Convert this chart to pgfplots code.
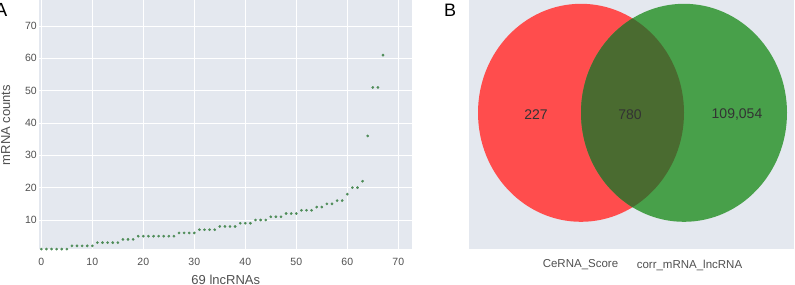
\documentclass[border=0pt]{standalone}
\usepackage{pgfplots}
\usepackage{pgfplotstable}
\pgfplotsset{compat=1.18}
\usepackage{fontspec}
\setmainfont{Liberation Sans}
\definecolor{bgc}{RGB}{228,232,239}
\definecolor{dotc}{RGB}{78,140,88}
\definecolor{vred}{RGB}{255,77,77}
\definecolor{vgreen}{RGB}{72,160,74}
\definecolor{vmix}{RGB}{74,107,48}
\definecolor{tickc}{RGB}{80,80,80}
\pgfplotstableread{
x y
0 1
1 1
2 1
3 1
4 1
5 1
6 2
7 2
8 2
9 2
10 2
11 3
12 3
13 3
14 3
15 3
16 4
17 4
18 4
19 5
20 5
21 5
22 5
23 5
24 5
25 5
26 5
27 6
28 6
29 6
30 6
31 7
32 7
33 7
34 7
35 8
36 8
37 8
38 8
39 9
40 9
41 9
42 10
43 10
44 10
45 11
46 11
47 11
48 12
49 12
50 12
51 13
52 13
53 13
54 14
55 14
56 15
57 15
58 16
59 16
60 18
61 20
62 20
63 22
64 36
65 51
66 51
67 61
}\dataA
\begin{document}
\begin{tikzpicture}[x=1pt,y=1pt]
\useasboundingbox (0,0) rectangle (795,284);
% Panel A
\begin{axis}[
  at={(39.3pt,35pt)}, anchor=south west,
  scale only axis, width=373pt, height=249pt,
  xmin=-0.4, xmax=72.75, ymin=1.03, ymax=78.05,
  axis background/.style={fill=bgc},
  axis line style={draw=none},
  major tick length=0pt,
  grid=major, grid style={white, line width=0.9pt},
  xtick={0,10,...,70}, ytick={10,20,...,70},
  /pgf/number format/assume math mode=true,
  tick label style={font=\fontsize{10.5}{12}\selectfont, text=tickc},
  xticklabel style={yshift=-5.5pt},
  yticklabel style={xshift=1pt},
  xlabel={69 lncRNAs},
  label style={font=\fontsize{13}{15}\selectfont, text=tickc},
  xlabel style={at={(axis description cs:0.5,-0.1245)}, anchor=center},
  clip=false,
]
\addplot[only marks, mark=*, mark size=1.15pt, color=dotc] table[x=x,y=y] {\dataA};
\end{axis}
\node[rotate=90, anchor=center, font=\fontsize{13}{15}\selectfont, text=tickc] at (5.8,159) {mRNA counts};
\node[anchor=base east, inner sep=0pt, font=\fontsize{19}{21}\selectfont] at (7.5,267) {A};
% Panel B
\begin{axis}[
  at={(469pt,35pt)}, anchor=south west,
  scale only axis, width=325pt, height=249pt,
  xmin=469, xmax=794, ymin=0, ymax=249, y dir=reverse,
  axis background/.style={fill=bgc},
  axis line style={draw=none},
  xtick=\empty, ytick=\empty,
  clip=false,
]
\fill[vred] (axis cs:581,112.8) ellipse [x radius=103, y radius=109];
\fill[vgreen] (axis cs:684,112.8) ellipse [x radius=103, y radius=109];
\begin{scope}
\clip (axis cs:581,112.8) ellipse [x radius=103, y radius=109];
\fill[vmix] (axis cs:684,112.8) ellipse [x radius=103, y radius=109];
\end{scope}
\node[font=\fontsize{14}{16}\selectfont, text=black!80] at (axis cs:536,115) {227};
\node[font=\fontsize{14}{16}\selectfont, text=black!80] at (axis cs:630,115) {780};
\node[font=\fontsize{14}{16}\selectfont, text=black!80] at (axis cs:737,115) {109,054};
\node[font=\fontsize{11.5}{13}\selectfont, text=tickc] at (axis cs:580.5,265) {CeRNA\_Score};
\node[font=\fontsize{11.5}{13}\selectfont, text=tickc] at (axis cs:689.5,265) {corr\_mRNA\_lncRNA};
\end{axis}
\node[anchor=base west, inner sep=0pt, font=\fontsize{18}{20}\selectfont] at (444,267) {B};
\end{tikzpicture}
\end{document}
